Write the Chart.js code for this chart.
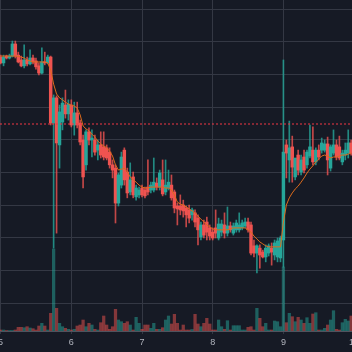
<!DOCTYPE html>
<html>
<head>
<meta charset="utf-8">
<script src="https://cdn.jsdelivr.net/npm/chart.js@4.4.1/dist/chart.umd.min.js"></script>
<style>
  html, body { margin: 0; padding: 0; background: #161a25; }
  #wrap { width: 352px; height: 352px; }
</style>
</head>
<body>
<div id="wrap"><canvas id="chart" width="352" height="352"></canvas></div>
<script>
// ---------- DATA (hourly candles, day 5 .. day 9) ----------
const FIRST_DAY = 5;
const CANDLES_PER_DAY = 24;
const DAY_TICKS = [5, 6, 7, 8, 9, 10];
const DAY_LABELS = ["5", "6", "7", "8", "9", "10"];
const LEVEL = 64.8;

const OPEN = [85.3,83.5,85.6,85.0,85.6,89.3,85.9,84.4,82.6,84.4,
  83.2,85.0,84.1,82.6,80.4,83.8,83.5,85.3,65.1,72.8,
  58.4,65.4,70.6,67.9,70.6,64.5,68.2,65.1,59.9,52.3,
  62.4,59.9,59.9,56.8,58.4,57.8,57.5,56.2,52.3,51.3,
  40.6,46.1,56.8,50.1,44.0,48.6,42.5,43.1,45.2,44.6,
  45.5,44.6,44.6,46.7,45.5,47.7,44.0,45.2,46.1,44.0,
  39.7,39.7,40.0,39.1,38.5,37.0,37.6,36.0,30.2,33.9,
  34.8,33.0,31.7,33.0,29.9,31.7,33.9,31.4,33.6,31.4,
  32.4,32.4,33.0,33.6,34.8,33.9,27.5,25.3,26.8,25.6,
  24.1,25.3,26.8,24.7,24.1,23.8,29.3,58.4,53.8,57.8,
  48.6,55.3,50.1,54.7,52.3,55.0,56.8,53.2,56.8,56.8,
  56.8,58.7,51.3,55.9,58.4,57.8,53.2,55.3,55.9,59.0];

const HIGH = [85.9,85.9,85.9,86.2,90.2,90.2,86.8,85.6,89.0,85.3,
  87.5,85.9,85.0,83.5,88.1,86.8,85.9,85.6,73.7,73.4,
  70.6,72.8,75.2,72.2,72.2,71.5,71.5,66.0,61.4,63.0,
  63.6,63.0,61.4,59.9,62.4,62.4,58.4,57.5,53.8,52.3,
  49.8,56.2,57.5,51.3,52.9,50.1,46.1,45.5,46.1,45.5,
  53.8,47.0,54.4,48.3,50.7,53.8,53.8,50.7,49.2,44.6,
  40.6,43.1,41.5,39.7,40.0,39.1,38.5,37.0,34.8,35.4,
  36.3,33.9,33.0,38.5,36.0,35.4,37.6,39.4,34.8,34.5,
  35.4,37.6,35.4,36.0,36.0,34.8,29.3,27.8,27.8,26.2,
  27.8,28.1,28.4,29.3,29.9,30.5,84.4,59.9,65.7,61.1,
  53.8,56.8,55.3,56.8,56.8,64.5,63.9,57.5,58.4,60.5,
  59.9,60.8,58.4,63.0,59.9,61.1,56.8,59.0,63.0,59.9];

const LOW = [83.2,82.6,84.7,84.7,85.3,85.0,83.5,82.3,82.0,82.6,
  82.9,83.2,81.6,79.8,80.1,82.9,83.2,64.5,26.8,31.4,
  51.3,63.0,66.6,66.0,63.9,61.4,63.6,58.4,45.2,50.7,
  58.4,54.7,55.3,53.8,54.4,53.8,53.8,51.3,48.3,34.5,
  39.7,45.2,46.1,42.2,43.1,42.2,41.5,42.2,42.5,42.2,
  43.1,43.7,44.0,44.6,44.6,42.8,43.1,44.6,41.5,37.6,
  33.9,37.0,36.3,33.3,34.5,35.4,33.3,27.8,29.3,29.9,
  29.3,29.3,29.3,29.9,29.3,30.5,29.9,30.5,31.7,30.8,
  31.7,31.7,32.4,33.0,31.7,24.7,24.1,19.2,20.7,23.8,
  22.6,24.4,21.6,23.2,22.6,22.6,21.0,48.3,47.0,47.0,
  47.7,49.2,49.2,49.8,51.3,54.4,52.3,52.3,53.8,55.9,
  56.2,49.2,50.4,55.3,53.8,53.8,52.3,53.8,54.4,55.3];

const CLOSE = [83.5,85.3,85.0,85.6,89.3,85.6,83.8,82.6,84.4,83.2,
  85.0,83.8,82.3,80.4,83.8,83.5,85.3,65.1,72.8,59.0,
  68.5,71.2,67.9,70.9,64.5,68.2,64.5,59.3,48.6,62.4,
  59.9,60.5,56.2,58.4,55.3,54.7,54.4,52.3,50.7,40.6,
  49.2,54.7,47.7,43.7,47.7,43.1,45.2,44.6,43.1,42.8,
  44.0,46.1,47.0,45.5,49.8,43.4,46.1,47.0,42.2,39.1,
  38.8,38.5,38.2,37.0,36.0,38.5,34.8,32.4,33.9,30.8,
  31.7,30.5,29.9,31.4,34.2,34.2,31.4,33.6,32.4,33.6,
  34.5,33.9,34.5,34.8,32.4,25.3,25.3,27.5,24.7,24.1,
  26.8,27.5,25.6,28.4,29.0,29.9,56.2,55.9,57.5,51.6,
  54.4,50.7,53.8,50.7,56.2,57.8,53.2,56.8,54.7,59.0,
  58.7,53.8,57.8,58.4,54.7,54.4,55.9,56.8,59.0,55.9];

const VOLUME = [10,10,5,5,5,10,37,37,33,43,
  30,23,10,50,77,50,10,177,820,227,
  77,43,27,17,10,17,50,60,110,43,
  77,60,17,10,83,150,60,17,43,217,
  110,93,77,93,60,10,137,77,17,60,
  60,27,77,17,17,33,110,150,70,167,
  77,10,60,10,10,15,167,70,43,77,
  127,70,10,10,110,43,17,103,10,53,
  53,53,10,10,37,43,10,227,127,43,
  77,10,10,100,93,43,640,83,177,143,
  93,137,110,77,133,77,170,183,10,10,
  27,60,110,203,17,10,83,117,100,150];

const MA = [85.6,85.6,85.6,85.6,85.6,85.6,85.5,85.3,85.0,84.4,
  84.1,83.8,83.8,83.8,83.8,83.8,83.5,81.3,77.0,74.0,
  72.8,72.2,71.5,70.9,70.6,70.3,69.7,67.6,64.2,63.3,
  62.7,61.7,60.8,59.6,58.7,58.1,57.5,56.5,55.0,52.3,
  50.7,51.0,51.3,50.1,48.6,47.7,47.0,46.1,45.5,45.2,
  45.2,45.5,45.5,45.5,45.5,45.5,45.2,45.2,44.6,43.1,
  40.9,40.3,40.0,39.4,38.8,38.2,37.6,36.6,35.7,34.8,
  33.9,33.3,32.7,32.4,32.4,32.4,32.4,32.4,32.7,33.0,
  33.0,33.0,33.0,33.0,32.4,31.7,30.5,29.6,28.7,28.1,
  27.5,27.2,27.2,27.2,27.2,27.2,34.8,40.0,42.2,43.7,
  44.9,45.8,47.0,48.3,49.8,51.0,52.0,53.2,54.1,55.0,
  55.3,55.0,54.4,54.7,54.7,55.0,55.3,55.3,55.6,55.9];

// ---------- LOOK ----------
const X_MIN = 4.9915, X_MAX = 9.97;
const Y_MIN = 1.44, Y_MAX = 102.76;
const VOL_MAX = 3310;

const UP = "#26a69a";
const DOWN = "#ef5350";
const UP_WICK = "rgba(38,166,154,0.8)";
const DOWN_WICK = "rgba(239,83,80,0.8)";
const UP_VOL = "rgba(38,166,154,0.5)";
const DOWN_VOL = "rgba(239,83,80,0.5)";
const GRID = "#343844";

const times = OPEN.map((_, i) => FIRST_DAY + i / CANDLES_PER_DAY);
const isUp = CLOSE.map((c, i) => c >= OPEN[i]);

const ctx = document.getElementById("chart").getContext("2d");

new Chart(ctx, {
    type: "bar",
    data: {
        datasets: [
            {
                label: "Volume",
                yAxisID: "vol",
                data: times.map((t, i) => ({ x: t, y: VOLUME[i] })),
                backgroundColor: isUp.map(u => u ? UP_VOL : DOWN_VOL),
                barThickness: 2.6,
                grouped: false,
                order: 5
            },
            {
                label: "Wick",
                yAxisID: "y",
                data: times.map((t, i) => ({ x: t, y: [LOW[i], HIGH[i]] })),
                backgroundColor: isUp.map(u => u ? UP_WICK : DOWN_WICK),
                barThickness: 1,
                grouped: false,
                order: 4
            },
            {
                label: "Body",
                yAxisID: "y",
                data: times.map((t, i) => ({ x: t, y: [OPEN[i], CLOSE[i]] })),
                backgroundColor: isUp.map(u => u ? UP : DOWN),
                barThickness: 2.8,
                minBarLength: 1,
                grouped: false,
                order: 3
            },
            {
                type: "line",
                label: "MA",
                yAxisID: "y",
                data: times.map((t, i) => ({ x: t, y: MA[i] })),
                borderColor: "#dd6b1c",
                borderWidth: 1,
                pointRadius: 0,
                tension: 0,
                order: 2
            },
            {
                type: "line",
                label: "Level",
                yAxisID: "y",
                data: [{ x: X_MIN, y: LEVEL }, { x: X_MAX, y: LEVEL }],
                borderColor: "#f23645",
                borderWidth: 1,
                borderDash: [2, 2],
                pointRadius: 0,
                order: 1
            }
        ]
    },
    options: {
        responsive: false,
        animation: false,
        devicePixelRatio: 1,
        layout: { padding: 0 },
        plugins: {
            legend: { display: false },
            tooltip: { enabled: false }
        },
        scales: {
            x: {
                type: "linear",
                min: X_MIN,
                max: X_MAX,
                offset: false,
                grid: { color: GRID, offset: false, tickLength: 3 },
                border: { color: "#50535e" },
                ticks: {
                    color: "#b2b5be",
                    font: { family: "Liberation Sans", size: 9 },
                    padding: 3,
                    autoSkip: false,
                    maxRotation: 0,
                    callback: (v, i) => DAY_LABELS[i]
                },
                afterBuildTicks: s => { s.ticks = DAY_TICKS.map(v => ({ value: v })); },
                afterFit: s => { s.paddingLeft = 0; s.paddingRight = 0; s.height = 21; }
            },
            y: {
                min: Y_MIN,
                max: Y_MAX,
                grid: { color: GRID, drawTicks: false },
                border: { display: false },
                ticks: { display: false, stepSize: 10, includeBounds: false },
                afterFit: s => { s.width = 0; }
            },
            vol: {
                display: false,
                min: 0,
                max: VOL_MAX
            }
        }
    }
});
</script>
</body>
</html>
